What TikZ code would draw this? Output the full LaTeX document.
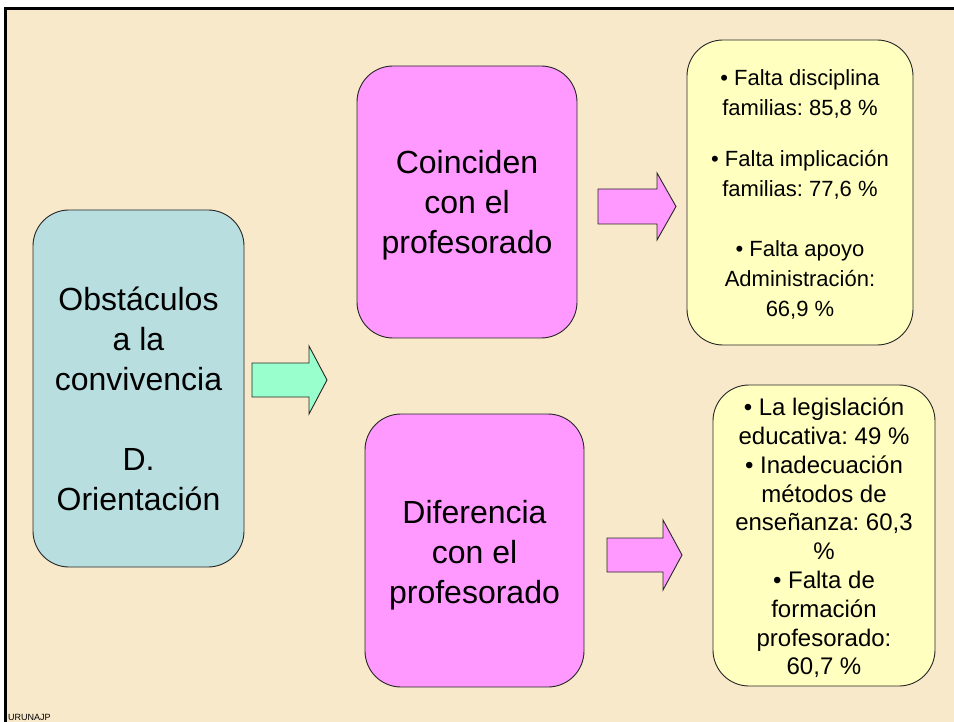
\documentclass[tikz,border=0pt]{standalone}
\usepackage{fontspec}
\setmainfont{Liberation Sans}
\frenchspacing
\definecolor{bgbeige}{RGB}{249,233,203}
\definecolor{boxblue}{RGB}{184,222,224}
\definecolor{boxpink}{RGB}{255,153,255}
\definecolor{boxyellow}{RGB}{255,255,192}
\definecolor{arrgreen}{RGB}{153,255,204}
\tikzset{
  rbox/.style={draw=black!85, line width=0.9pt, rounded corners=36pt, inner sep=0pt},
  btext/.style={inner sep=0pt, align=center, text=black},
  bigtext/.style={btext, font={\fontsize{32}{40}\selectfont}},
  blockarrow/.style={draw=black!85, line width=0.9pt, line join=miter},
}
\begin{document}
\begin{tikzpicture}[x=1pt,y=-1pt]
\useasboundingbox (0,0) rectangle (954,722);
\fill[white] (0,0) rectangle (954,722);
\fill[bgbeige] (5,9) rectangle (954,722);
\draw[line width=3pt] (5,722) -- (5,9) -- (954,9);

% boxes
\node[rbox, fill=boxblue, minimum width=211pt, minimum height=357pt] (obst) at (138.5,388.5) {};
\node[bigtext] (obstT) at (138.5,399) {Obstáculos\\a la\\convivencia\\[40pt]D.\\Orientación};
\node[rbox, fill=boxpink, minimum width=220pt, minimum height=272pt] (coin) at (467,202) {};
\node[bigtext] (coinT) at (467,205) {Coinciden\\con el\\profesorado};
\node[rbox, fill=boxpink, minimum width=219pt, minimum height=273pt] (dif) at (474.5,550.5) {};
\node[bigtext] (difT) at (474.5,555) {Diferencia\\con el\\profesorado};
\node[rbox, fill=boxyellow, minimum width=226pt, minimum height=305pt] (ytop) at (800,192.5) {};
\node[btext, font={\fontsize{22}{30}\selectfont}] (ytopT) at (800,194)
  {• Falta disciplina\\familias: 85,8 \%\\[21pt]• Falta implicación\\familias: 77,6 \%\\[30pt]• Falta apoyo\\Administración:\\66,9 \%};
\node[rbox, fill=boxyellow, minimum width=222pt, minimum height=301pt] (ybot) at (824,535.5) {};
\node[btext, font={\fontsize{24}{28.8}\selectfont}] (ybotT) at (824,538)
  {• La legislación\\educativa: 49 \%\\• Inadecuación\\métodos de\\enseñanza: 60,3\\\%\\• Falta de\\formación\\profesorado:\\60,7 \%};

% block arrows
\draw[blockarrow, fill=arrgreen] (252,363) -- (309,363) -- (309,346) -- (327,380) -- (309,414) -- (309,397) -- (252,397) -- cycle;
\draw[blockarrow, fill=boxpink] (598,189) -- (657,189) -- (657,173) -- (676,206.5) -- (657,240) -- (657,224) -- (598,224) -- cycle;
\draw[blockarrow, fill=boxpink] (607,538) -- (663,538) -- (663,520) -- (682,555) -- (663,590) -- (663,572) -- (607,572) -- cycle;

\node[anchor=south west, inner sep=0pt, font={\fontsize{9}{10}\selectfont}] (sig) at (8,721) {URUNAJP};
\end{tikzpicture}
\end{document}
